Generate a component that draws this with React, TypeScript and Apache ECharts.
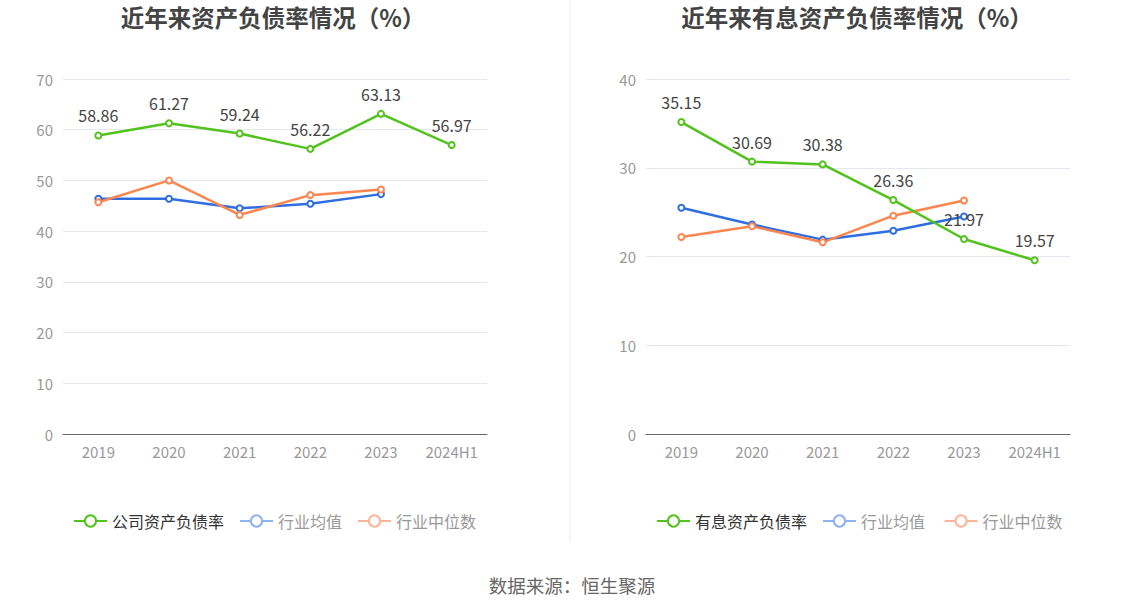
import React, { useEffect, useRef } from "react";
import * as echarts from "echarts";

const years = ["2019", "2020", "2021", "2022", "2023", "2024H1"];
const companyDebt = [58.86, 61.27, 59.24, 56.22, 63.13, 56.97];
const industryAvgDebt = [46.4, 46.4, 44.5, 45.4, 47.3, null];
const industryMedDebt = [45.7, 50.0, 43.2, 47.1, 48.2, null];
const interestDebt = [35.15, 30.69, 30.38, 26.36, 21.97, 19.57];
const industryAvgInterest = [25.5, 23.6, 21.9, 22.9, 24.5, null];
const industryMedInterest = [22.2, 23.4, 21.6, 24.6, 26.3, null];

const GREEN = "#52c31c";
const BLUE = "#2f6ee0";
const ORANGE = "#fd8650";

export default function App() {
  const ref = useRef<HTMLDivElement>(null);
  useEffect(() => {
    if (!ref.current) return;
    const chart = echarts.init(ref.current, null, { renderer: "svg" });
    const font = "'Noto Sans CJK SC', 'Noto Sans', sans-serif";
    const mkLine = (name: string, data: any[], color: string, idx: number, label: boolean) => ({
      type: "line",
      name,
      data,
      xAxisIndex: idx,
      yAxisIndex: idx,
      symbol: "emptyCircle",
      symbolSize: 6,
      lineStyle: { color, width: 2.5 },
      itemStyle: { color, borderWidth: 2 },
      label: label
        ? { show: true, position: "top", distance: 8, fontSize: 16, color: "#444", fontFamily: font }
        : { show: false },
      z: label ? 3 : 2,
    });
    const mkX = (idx: number) => ({
      type: "category",
      gridIndex: idx,
      data: years,
      axisLine: { lineStyle: { color: "#666", width: 1 } },
      axisTick: { alignWithLabel: true, length: 5, lineStyle: { color: "#666" } },
      axisLabel: { color: "#999", fontSize: 15, margin: 10, fontFamily: font },
    });
    const mkY = (idx: number, max: number) => ({
      type: "value",
      gridIndex: idx,
      min: 0,
      max,
      interval: 10,
      axisLine: { show: false },
      axisTick: { show: false },
      splitLine: { lineStyle: { color: "#e3e7f2", width: 1 } },
      axisLabel: { color: "#999", fontSize: 15, margin: 10, fontFamily: font },
    });
    const mkLegend = (left: number, names: string[]) => ({
      left,
      top: 513,
      padding: 0,
      itemWidth: 33,
      itemHeight: 14,
      itemGap: 15,
      textStyle: { fontSize: 16, fontFamily: font, color: "#333" },
      data: [
        { name: names[0], textStyle: { color: "#333" } },
        { name: names[1], textStyle: { color: "#999" }, itemStyle: { color: "#8fb2f2" }, lineStyle: { color: "#8fb2f2" } },
        { name: names[2], textStyle: { color: "#999" }, itemStyle: { color: "#fdb59a" }, lineStyle: { color: "#fdb59a" } },
      ],
    });
    chart.setOption({
      animation: false,
      backgroundColor: "#fff",
      title: [
        {
          text: "近年来资产负债率情况（%）",
          left: 268,
          textAlign: "center",
          top: 0,
          textStyle: { fontSize: 23.5, fontWeight: "bold", color: "#444", fontFamily: font },
        },
        {
          text: "近年来有息资产负债率情况（%）",
          left: 852,
          textAlign: "center",
          top: 0,
          textStyle: { fontSize: 23.5, fontWeight: "bold", color: "#444", fontFamily: font },
        },
        {
          text: "数据来源：恒生聚源",
          left: 567,
          textAlign: "center",
          top: 571,
          textStyle: { fontSize: 18.5, fontWeight: "normal", color: "#666", fontFamily: font },
        },
      ],
      legend: [
        mkLegend(73, ["公司资产负债率", "行业均值", "行业中位数"]),
        mkLegend(656, ["有息资产负债率", "行业均值 ", "行业中位数 "]),
      ],
      grid: [
        { left: 63, right: 647, top: 79, bottom: 178 },
        { left: 646, right: 64, top: 79, bottom: 178 },
      ],
      xAxis: [mkX(0), mkX(1)],
      yAxis: [mkY(0, 70), mkY(1, 40)],
      graphic: [
        {
          type: "line",
          shape: { x1: 570, y1: 0, x2: 570, y2: 542 },
          style: { stroke: "#eeeeee", lineWidth: 1 },
        },
      ],
      series: [
        mkLine("行业均值", industryAvgDebt, BLUE, 0, false),
        mkLine("行业中位数", industryMedDebt, ORANGE, 0, false),
        mkLine("公司资产负债率", companyDebt, GREEN, 0, true),
        mkLine("行业均值 ", industryAvgInterest, BLUE, 1, false),
        mkLine("行业中位数 ", industryMedInterest, ORANGE, 1, false),
        mkLine("有息资产负债率", interestDebt, GREEN, 1, true),
      ],
    });
    return () => chart.dispose();
  }, []);
  return (
    <div
      ref={ref}
      style={{ position: "absolute", left: 0, top: 0, width: 1134, height: 612 }}
    />
  );
}
